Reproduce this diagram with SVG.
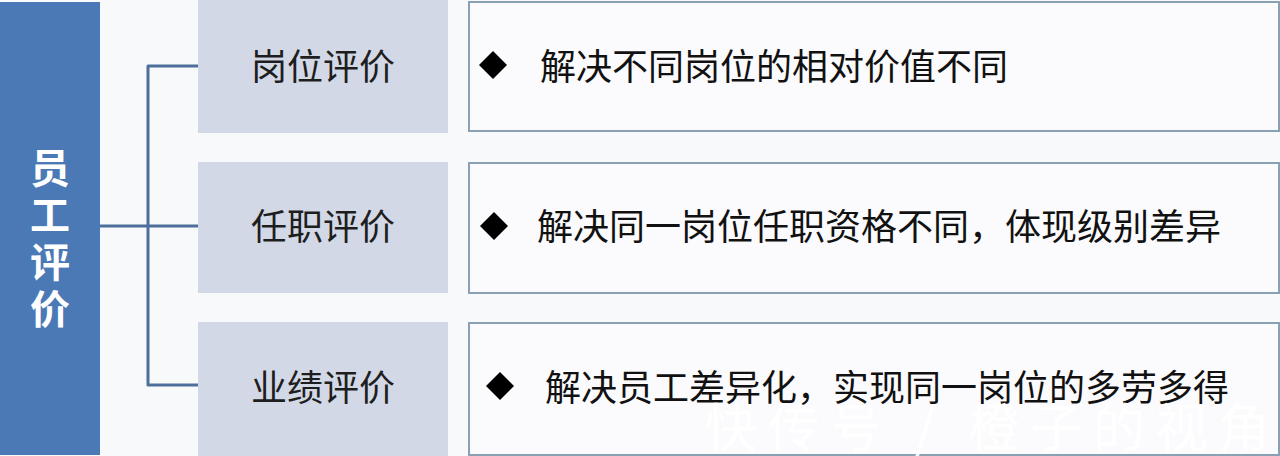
<svg xmlns="http://www.w3.org/2000/svg" width="1280" height="456" viewBox="0 0 1280 456">
<style>
.cat{fill:#d3d8e6}
.box{fill:#fbfbfd;stroke:#8aa1b4;stroke-width:2}
.lbl{font-family:"Noto Sans CJK SC","Noto Sans",sans-serif;font-size:36px;fill:#1e1e1e;text-anchor:middle}
.txt{font-family:"Noto Sans CJK SC","Noto Sans",sans-serif;font-size:36px;fill:#111}
.root{font-family:"Noto Sans CJK SC","Noto Sans",sans-serif;font-size:40px;font-weight:bold;fill:#fff;text-anchor:middle}
.dia{fill:#000}
.conn{fill:none;stroke:#4d6f9c;stroke-width:3;stroke-linejoin:round}
.wm{font-family:"Noto Sans CJK SC","Noto Sans",sans-serif;font-size:52px;fill:#fff;fill-opacity:0.92}
</style>
<rect width="1280" height="456" fill="#f8f9fb"/>
<g id="root">
<rect x="0" y="2" width="100" height="453" fill="#4a79b5"/>
<text class="root" x="50" y="183">员</text>
<text class="root" x="50" y="230">工</text>
<text class="root" x="50" y="277">评</text>
<text class="root" x="50" y="324">价</text>
</g>
<g id="connectors">
<path class="conn" d="M100 226 H198"/>
<path class="conn" d="M198 66 H148 V385 H198"/>
</g>
<g id="cat1">
<rect class="cat" x="198" y="0" width="250" height="133"/>
<text class="lbl" x="323" y="80">岗位评价</text>
</g>
<g id="cat2">
<rect class="cat" x="198" y="162" width="250" height="131"/>
<text class="lbl" x="323" y="240">任职评价</text>
</g>
<g id="cat3">
<rect class="cat" x="198" y="322" width="250" height="134"/>
<text class="lbl" x="323" y="401">业绩评价</text>
</g>
<g id="desc1">
<rect class="box" x="469" y="2" width="810" height="129"/>
<polygon class="dia" points="493,51 507,65 493,79 479,65"/>
<text class="txt" x="540" y="80">解决不同岗位的相对价值不同</text>
</g>
<g id="desc2">
<rect class="box" x="469" y="163" width="810" height="130"/>
<polygon class="dia" points="494,212 508,226 494,240 480,226"/>
<text class="txt" x="537" y="240">解决同一岗位任职资格不同，体现级别差异</text>
</g>
<g id="desc3">
<rect class="box" x="469" y="323" width="810" height="132"/>
<polygon class="dia" points="500,372 514,386 500,400 486,386"/>
<text class="txt" x="545" y="401">解决员工差异化，实现同一岗位的多劳多得</text>
</g>
<text class="wm" x="705" y="447" textLength="565" lengthAdjust="spacing">快传号 / 橙子的视角</text>
</svg>
